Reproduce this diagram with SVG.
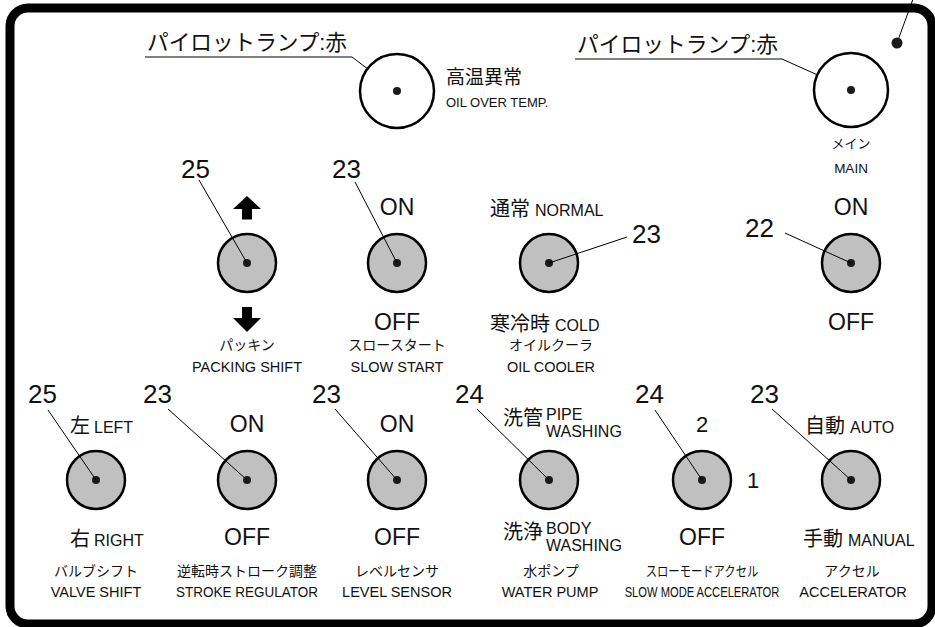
<svg xmlns="http://www.w3.org/2000/svg" width="935" height="627" viewBox="0 0 935 627">
<style>
text{font-family:"Liberation Sans","Noto Sans CJK JP",sans-serif;fill:#111}
.num{font-size:26px}
.oo{font-size:23px;text-anchor:middle}
.jp{font-size:14px;text-anchor:middle}
.en{font-size:14.5px;text-anchor:middle}
.jm{font-size:20px}
.es{font-size:16px}
.sw{fill:#c0c0c0;stroke:#000;stroke-width:2.5}
.lamp{fill:#fff;stroke:#000;stroke-width:2.5}
.dot{fill:#1a1a1a}
.ld{stroke:#000;stroke-width:1;fill:none}
</style>
<rect x="10" y="8" width="922" height="616" rx="18" fill="#fff" stroke="#000" stroke-width="9"/>

<g id="connectors">
<line class="ld" x1="897" y1="43" x2="913" y2="-1" stroke-width="1.2"/>
<line class="ld" x1="145" y1="57" x2="352" y2="57" stroke-width="1.2"/>
<line class="ld" x1="352" y1="57" x2="397" y2="91"/>
<line class="ld" x1="575" y1="59" x2="782" y2="59" stroke-width="1.2"/>
<line class="ld" x1="782" y1="59" x2="851" y2="90"/>
</g>

<g id="corner-dot"><circle class="dot" cx="897" cy="43" r="5.5"/></g>

<g id="lamp-oil">
<circle class="lamp" cx="397" cy="91" r="37"/>
<circle class="dot" cx="397" cy="91" r="4"/>
<text x="147" y="50" font-size="22" textLength="200" lengthAdjust="spacingAndGlyphs">パイロットランプ:赤</text>
<text x="446" y="84" font-size="19">高温異常</text>
<text x="446" y="107" font-size="13">OIL OVER TEMP.</text>
</g>

<g id="lamp-main">
<circle class="lamp" cx="851" cy="90" r="37"/>
<circle class="dot" cx="851" cy="90" r="4"/>
<text x="577" y="52" font-size="22" textLength="201" lengthAdjust="spacingAndGlyphs">パイロットランプ:赤</text>
<text x="851" y="148" font-size="13" text-anchor="middle">メイン</text>
<text x="851" y="173" font-size="13.5" text-anchor="middle">MAIN</text>
</g>

<g id="sw-packing">
<circle class="sw" cx="247" cy="263" r="29"/>
<circle class="dot" cx="247" cy="263" r="4"/>
<line class="ld" x1="199" y1="180" x2="247" y2="263"/>
<text x="181" y="178" class="num">25</text>
<polygon points="247,196 261,209 233,209" fill="#000"/>
<rect x="242" y="208.5" width="10" height="11" fill="#000"/>
<rect x="242" y="307" width="10" height="11.5" fill="#000"/>
<polygon points="233,318 261,318 247,332" fill="#000"/>
<text x="247" y="350" class="jp">パッキン</text>
<text x="247" y="372" class="en">PACKING SHIFT</text>
</g>

<g id="sw-slowstart">
<circle class="sw" cx="397" cy="263" r="29"/>
<circle class="dot" cx="397" cy="263" r="4"/>
<line class="ld" x1="355" y1="182" x2="397" y2="263"/>
<text x="332" y="178" class="num">23</text>
<text x="397" y="215" class="oo">ON</text>
<text x="397" y="330" class="oo">OFF</text>
<text x="397" y="350" class="jp">スロースタート</text>
<text x="397" y="372" class="en">SLOW START</text>
</g>

<g id="sw-oilcooler">
<circle class="sw" cx="549" cy="263" r="29"/>
<circle class="dot" cx="549" cy="263" r="4"/>
<line class="ld" x1="627" y1="237" x2="549" y2="263"/>
<text x="632" y="243" class="num">23</text>
<text x="490" y="216"><tspan class="jm">通常</tspan><tspan class="es" dx="5">NORMAL</tspan></text>
<text x="490" y="331"><tspan class="jm">寒冷時</tspan><tspan class="es" dx="5">COLD</tspan></text>
<text x="551" y="350" class="jp">オイルクーラ</text>
<text x="551" y="372" class="en">OIL COOLER</text>
</g>

<g id="sw-main">
<circle class="sw" cx="851" cy="263" r="29"/>
<circle class="dot" cx="851" cy="263" r="4"/>
<line class="ld" x1="785" y1="233" x2="851" y2="263"/>
<text x="745" y="237" class="num">22</text>
<text x="851" y="215" class="oo">ON</text>
<text x="851" y="330" class="oo">OFF</text>
</g>

<g id="sw-valve">
<circle class="sw" cx="96" cy="480" r="29"/>
<circle class="dot" cx="96" cy="480" r="4"/>
<line class="ld" x1="48" y1="410" x2="96" y2="480"/>
<text x="28" y="403" class="num">25</text>
<text x="70" y="433"><tspan class="jm">左</tspan><tspan class="es" dx="4">LEFT</tspan></text>
<text x="70" y="546"><tspan class="jm">右</tspan><tspan class="es" dx="4">RIGHT</tspan></text>
<text x="96" y="576" class="jp">バルブシフト</text>
<text x="96" y="597" class="en">VALVE SHIFT</text>
</g>

<g id="sw-stroke">
<circle class="sw" cx="247" cy="480" r="29"/>
<circle class="dot" cx="247" cy="480" r="4"/>
<line class="ld" x1="168" y1="409" x2="247" y2="480"/>
<text x="143" y="403" class="num">23</text>
<text x="247" y="432" class="oo">ON</text>
<text x="247" y="545" class="oo">OFF</text>
<text x="247" y="576" class="jp">逆転時ストローク調整</text>
<text class="en" transform="translate(247,597) scale(0.93,1)">STROKE REGULATOR</text>
</g>

<g id="sw-level">
<circle class="sw" cx="397" cy="480" r="29"/>
<circle class="dot" cx="397" cy="480" r="4"/>
<line class="ld" x1="335" y1="409" x2="397" y2="480"/>
<text x="312" y="403" class="num">23</text>
<text x="397" y="432" class="oo">ON</text>
<text x="397" y="545" class="oo">OFF</text>
<text x="397" y="576" class="jp">レベルセンサ</text>
<text x="397" y="597" class="en">LEVEL SENSOR</text>
</g>

<g id="sw-pump">
<circle class="sw" cx="549" cy="480" r="29"/>
<circle class="dot" cx="549" cy="480" r="4"/>
<line class="ld" x1="477" y1="409" x2="549" y2="480"/>
<text x="455" y="403" class="num">24</text>
<text x="503" y="425" class="jm">洗管</text>
<text x="546" y="420" class="es">PIPE</text>
<text x="546" y="437" class="es">WASHING</text>
<text x="503" y="539" class="jm">洗浄</text>
<text x="546" y="534" class="es">BODY</text>
<text x="546" y="551" class="es">WASHING</text>
<text x="551" y="576" class="jp">水ポンプ</text>
<text x="550" y="597" class="en">WATER PUMP</text>
</g>

<g id="sw-slowmode">
<circle class="sw" cx="702" cy="480" r="29"/>
<circle class="dot" cx="702" cy="480" r="4"/>
<line class="ld" x1="655" y1="410" x2="702" y2="480"/>
<text x="635" y="403" class="num">24</text>
<text x="702" y="432" font-size="22" text-anchor="middle">2</text>
<text x="753" y="488" font-size="22" text-anchor="middle">1</text>
<text x="702" y="545" class="oo">OFF</text>
<text class="jp" transform="translate(702,576) scale(0.81,1)">スローモードアクセル</text>
<text class="en" transform="translate(702,597) scale(0.77,1)">SLOW MODE ACCELERATOR</text>
</g>

<g id="sw-accel">
<circle class="sw" cx="851" cy="480" r="29"/>
<circle class="dot" cx="851" cy="480" r="4"/>
<line class="ld" x1="772" y1="409" x2="851" y2="480"/>
<text x="750" y="403" class="num">23</text>
<text x="805" y="433"><tspan class="jm">自動</tspan><tspan class="es" dx="5">AUTO</tspan></text>
<text x="803" y="546"><tspan class="jm">手動</tspan><tspan class="es" dx="5">MANUAL</tspan></text>
<text x="852" y="576" class="jp">アクセル</text>
<text x="853" y="597" class="en">ACCELERATOR</text>
</g>
</svg>
